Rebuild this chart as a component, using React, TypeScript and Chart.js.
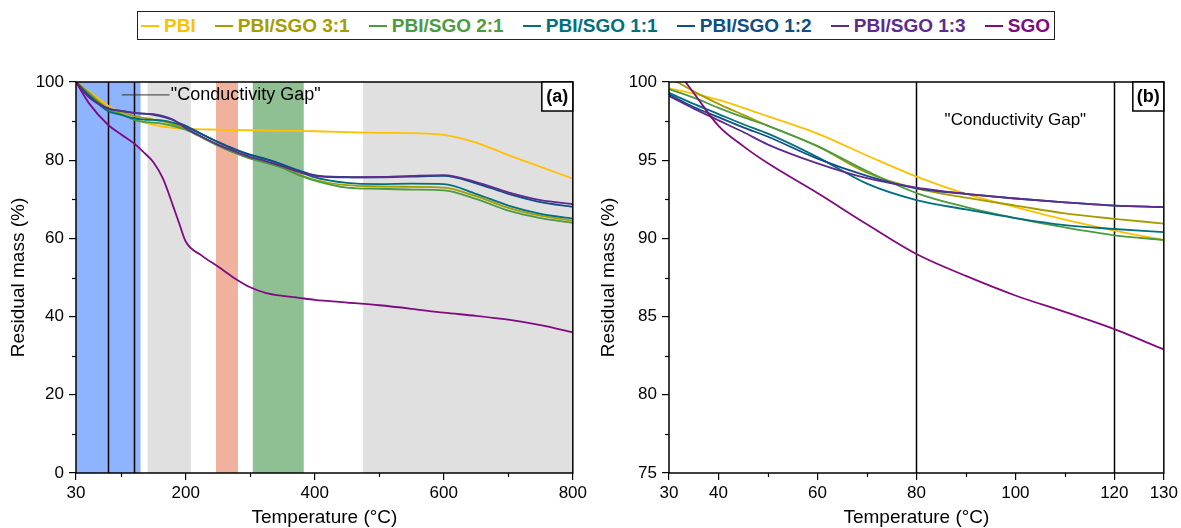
import React, { useEffect, useRef } from "react";
import { Chart, registerables } from "chart.js";
Chart.register(...registerables);

const FONT = "'Liberation Sans', Arial, sans-serif";

const SERIES_NAMES = ["PBI", "PBI/SGO 3:1", "PBI/SGO 2:1", "PBI/SGO 1:1", "PBI/SGO 1:2", "PBI/SGO 1:3", "SGO"];
const SERIES_COLORS = ["#FFC000", "#A59D00", "#4C9A41", "#00707F", "#104E85", "#5E2B8E", "#800A80"];

// Panel (a): full temperature range
const tempA = [30, 50, 80, 100, 120, 135, 150, 165, 180, 190, 200, 225, 250, 275, 300, 325, 350, 375, 400, 450, 500, 550, 600, 650, 700, 750, 800];
const pbiA = [100, 97.6, 93.9, 92.0, 90.5, 89.7, 89.1, 88.6, 88.3, 88.1, 88.0, 87.9, 87.8, 87.7, 87.7, 87.6, 87.5, 87.5, 87.4, 87.2, 87.0, 86.9, 86.5, 84.5, 81.3, 78.3, 75.3];
const r31A = [100, 97.3, 93.2, 92.4, 91.3, 90.8, 90.4, 89.9, 89.2, 88.6, 88.0, 85.9, 83.8, 82.0, 80.5, 79.4, 78.1, 76.4, 75.0, 73.6, 73.3, 73.2, 73.0, 70.8, 67.8, 65.8, 64.5];
const r21A = [100, 97.0, 92.9, 91.8, 90.3, 89.8, 89.6, 89.3, 88.8, 88.3, 87.8, 85.8, 83.7, 81.9, 80.4, 79.3, 78.0, 76.2, 74.8, 73.0, 72.7, 72.5, 72.3, 70.1, 67.1, 65.2, 64.0];
const r11A = [100, 96.6, 92.5, 91.6, 90.7, 90.4, 90.3, 90.1, 89.6, 89.1, 88.6, 86.6, 84.6, 82.8, 81.3, 80.2, 78.8, 77.2, 75.6, 74.2, 73.9, 74.0, 73.9, 71.4, 68.4, 66.3, 65.1];
const r12A = [100, 96.4, 93.2, 92.6, 92.1, 91.9, 91.6, 91.1, 90.3, 89.5, 88.8, 86.7, 84.7, 82.9, 81.4, 80.3, 78.9, 77.4, 76.2, 75.7, 75.6, 75.8, 76.0, 74.1, 71.4, 69.3, 68.1];
const r13A = [100, 96.1, 93.2, 92.6, 92.1, 91.9, 91.8, 91.3, 90.4, 89.3, 88.2, 86.0, 84.0, 82.3, 80.8, 79.7, 78.4, 77.0, 76.0, 75.6, 75.7, 76.0, 76.2, 74.4, 71.8, 69.8, 68.8];
const sgoA = [100, 94.6, 89.0, 86.6, 84.3, 82.0, 79.5, 75.2, 68.5, 63.8, 59.2, 55.6, 52.8, 49.9, 47.5, 46.0, 45.3, 44.8, 44.3, 43.6, 42.9, 42.0, 41.0, 40.2, 39.2, 37.8, 36.0];

// Panel (b): zoom 30-130 °C
const tempB = [30, 35, 40, 45, 50, 60, 70, 80, 90, 100, 110, 120, 130];
const pbiB = [99.6, 99.25, 98.85, 98.35, 97.8, 96.7, 95.3, 93.95, 92.85, 92.0, 91.2, 90.5, 89.9];
const r31B = [100.3, 99.4, 98.6, 97.9, 97.2, 95.9, 94.2, 93.2, 92.6, 92.1, 91.6, 91.25, 90.95];
const r21B = [99.55, 99.0, 98.35, 97.75, 97.2, 95.9, 94.3, 92.9, 92.0, 91.3, 90.7, 90.2, 89.9];
const r11B = [99.3, 98.6, 97.95, 97.3, 96.7, 95.2, 93.5, 92.45, 91.85, 91.3, 90.85, 90.6, 90.4];
const r12B = [99.2, 98.4, 97.75, 97.1, 96.5, 95.1, 94.0, 93.2, 92.85, 92.55, 92.3, 92.1, 92.0];
const r13B = [99.1, 98.3, 97.55, 96.8, 96.0, 94.8, 93.85, 93.25, 92.85, 92.55, 92.3, 92.1, 92.0];
const sgoB = [101.4, 99.3, 97.2, 95.9, 94.8, 92.9, 90.9, 89.0, 87.6, 86.35, 85.3, 84.2, 82.9];

// Axis ticks
const ticksAX = [30, 200, 400, 600, 800];
const minorAX = [100, 300, 500, 700];
const ticksAY = [0, 20, 40, 60, 80, 100];
const minorAY = [10, 30, 50, 70, 90];
const ticksBX = [30, 40, 60, 80, 100, 120, 130];
const minorBX = [50, 70, 90, 110];
const ticksBY = [75, 80, 85, 90, 95, 100];
const minorBY = [77.5, 82.5, 87.5, 92.5, 97.5];

// "Conductivity gap" boundaries and shaded temperature regions of panel (a)
const gapLines = [80, 120];
const bandStart = [30, 141, 247, 304, 475];
const bandEnd = [130, 208, 281, 383, 800];
const BAND_COLORS = ["#8EB4FF", "#E0E0E0", "#F0B29C", "#8FC093", "#E0E0E0"];

type PanelCfg = {
  temps: number[];
  series: number[][];
  xMin: number; xMax: number; xTicks: number[]; xMinor: number[];
  yMin: number; yMax: number; yTicks: number[]; yMinor: number[];
  yAxisWidth: number; padRight: number;
  bands: boolean;
  label: string;
  note: (chart: any) => void;
};

function makeConfig(p: PanelCfg): any {
  const datasets = p.series.map((vals, i) => ({
    label: SERIES_NAMES[i],
    data: p.temps.map((t, j) => ({ x: t, y: vals[j] })),
    borderColor: SERIES_COLORS[i],
    backgroundColor: SERIES_COLORS[i],
    borderWidth: 1.8,
    pointRadius: 0,
    cubicInterpolationMode: "monotone",
    fill: false,
    order: -i,
  }));

  const decor = {
    id: "decor",
    beforeDatasetsDraw(chart: any) {
      const { ctx, chartArea: ca, scales } = chart;
      const x = scales.x;
      ctx.save();
      if (p.bands) {
        bandStart.forEach((s, i) => {
          const x0 = x.getPixelForValue(s);
          const x1 = x.getPixelForValue(bandEnd[i]);
          ctx.fillStyle = BAND_COLORS[i];
          ctx.fillRect(x0, ca.top, x1 - x0, ca.bottom - ca.top);
        });
      }
      ctx.strokeStyle = "#000";
      ctx.lineWidth = 1.5;
      gapLines.forEach((v) => {
        const px = Math.round(x.getPixelForValue(v)) + 0.5;
        ctx.beginPath();
        ctx.moveTo(px, ca.top);
        ctx.lineTo(px, ca.bottom);
        ctx.stroke();
      });
      ctx.restore();
    },
    afterDatasetsDraw(chart: any) {
      const { ctx, chartArea: ca, scales } = chart;
      const x = scales.x, y = scales.y;
      ctx.save();
      // frame
      ctx.strokeStyle = "#000";
      ctx.lineWidth = 1.5;
      ctx.strokeRect(ca.left, ca.top, ca.right - ca.left, ca.bottom - ca.top);
      // minor ticks
      ctx.lineWidth = 1.2;
      p.xMinor.forEach((v) => {
        const px = Math.round(x.getPixelForValue(v)) + 0.5;
        ctx.beginPath();
        ctx.moveTo(px, ca.bottom);
        ctx.lineTo(px, ca.bottom + 4);
        ctx.stroke();
      });
      p.yMinor.forEach((v) => {
        const py = Math.round(y.getPixelForValue(v)) + 0.5;
        ctx.beginPath();
        ctx.moveTo(ca.left, py);
        ctx.lineTo(ca.left - 4, py);
        ctx.stroke();
      });
      // panel label box
      const bw = 31, bh = 29;
      ctx.fillStyle = "#fff";
      ctx.fillRect(ca.right - bw, ca.top, bw, bh);
      ctx.lineWidth = 1.5;
      ctx.strokeRect(ca.right - bw, ca.top, bw, bh);
      ctx.fillStyle = "#000";
      ctx.font = `bold 18px ${FONT}`;
      ctx.textAlign = "center";
      ctx.textBaseline = "middle";
      ctx.fillText(p.label, ca.right - bw / 2, ca.top + bh / 2 + 1);
      p.note(chart);
      ctx.restore();
    },
  };

  return {
    type: "line",
    data: { datasets },
    plugins: [decor],
    options: {
      responsive: false,
      animation: false,
      devicePixelRatio: 1,
      layout: { padding: { top: 82, right: p.padRight, left: 0, bottom: 0 }, autoPadding: false },
      plugins: { legend: { display: false }, tooltip: { enabled: false } },
      scales: {
        x: {
          type: "linear",
          min: p.xMin,
          max: p.xMax,
          afterBuildTicks: (s: any) => { s.ticks = p.xTicks.map((v) => ({ value: v })); },
          afterFit: (s: any) => { s.height = 55; },
          ticks: { color: "#000", font: { family: FONT, size: 17 }, padding: 3, maxRotation: 0, autoSkip: false },
          grid: { drawOnChartArea: false, drawTicks: true, tickLength: 7, tickColor: "#000", color: "#000", lineWidth: 1.2 },
          border: { display: false },
          title: { display: true, text: "Temperature (°C)", color: "#000", font: { family: FONT, size: 19 }, padding: { top: 0, bottom: -1 } },
        },
        y: {
          type: "linear",
          min: p.yMin,
          max: p.yMax,
          afterBuildTicks: (s: any) => { s.ticks = p.yTicks.map((v) => ({ value: v })); },
          afterFit: (s: any) => { s.width = p.yAxisWidth; },
          ticks: { color: "#000", font: { family: FONT, size: 17 }, padding: 5, autoSkip: false },
          grid: { drawOnChartArea: false, drawTicks: true, tickLength: 7, tickColor: "#000", color: "#000", lineWidth: 1.2 },
          border: { display: false },
          title: { display: true, text: "Residual mass (%)", color: "#000", font: { family: FONT, size: 19 }, padding: { top: 7, bottom: 0 } },
        },
      },
    },
  };
}

const noteA = (chart: any) => {
  const { ctx, scales } = chart;
  const x = scales.x, y = scales.y;
  const py = y.getPixelForValue(96.7);
  ctx.strokeStyle = "#333";
  ctx.lineWidth = 1;
  ctx.beginPath();
  ctx.moveTo(x.getPixelForValue(101), py);
  ctx.lineTo(x.getPixelForValue(175), py);
  ctx.stroke();
  ctx.fillStyle = "#000";
  ctx.font = `18px ${FONT}`;
  ctx.textAlign = "left";
  ctx.textBaseline = "middle";
  ctx.fillText('"Conductivity Gap"', x.getPixelForValue(177), py);
};

const noteB = (chart: any) => {
  const { ctx, scales } = chart;
  const x = scales.x, y = scales.y;
  ctx.fillStyle = "#000";
  ctx.font = `17px ${FONT}`;
  ctx.textAlign = "center";
  ctx.textBaseline = "middle";
  ctx.fillText('"Conductivity Gap"', x.getPixelForValue(100), y.getPixelForValue(97.55));
};

function Panel({ left, width, cfg }: { left: number; width: number; cfg: PanelCfg }) {
  const ref = useRef<HTMLCanvasElement>(null);
  useEffect(() => {
    const chart = new Chart(ref.current as HTMLCanvasElement, makeConfig(cfg));
    return () => chart.destroy();
  }, []);
  return (
    <canvas
      ref={ref}
      width={width}
      height={528}
      style={{ position: "absolute", left, top: 0, width, height: 528 }}
    />
  );
}

function Legend() {
  return (
    <div
      style={{
        position: "absolute",
        left: 137,
        top: 11,
        width: 918,
        height: 29,
        boxSizing: "border-box",
        border: "1.5px solid #222",
        display: "flex",
        alignItems: "center",
        justifyContent: "space-between",
        padding: "0 4px 0 3px",
        fontFamily: FONT,
        fontWeight: "bold",
        fontSize: 19,
        background: "#fff",
        zIndex: 2,
      }}
    >
      {SERIES_NAMES.map((n, i) => (
        <div key={n} style={{ display: "flex", alignItems: "center", color: SERIES_COLORS[i], whiteSpace: "nowrap" }}>
          <span style={{ display: "inline-block", width: 18, height: 2, background: SERIES_COLORS[i], marginRight: 5 }} />
          <span>{n}</span>
        </div>
      ))}
    </div>
  );
}

export default function App() {
  const cfgA: PanelCfg = {
    temps: tempA,
    series: [pbiA, r31A, r21A, r11A, r12A, r13A, sgoA],
    xMin: 30, xMax: 800, xTicks: ticksAX, xMinor: minorAX,
    yMin: 0, yMax: 100, yTicks: ticksAY, yMinor: minorAY,
    yAxisWidth: 76, padRight: 16,
    bands: true,
    label: "(a)",
    note: noteA,
  };
  const cfgB: PanelCfg = {
    temps: tempB,
    series: [pbiB, r31B, r21B, r11B, r12B, r13B, sgoB],
    xMin: 30, xMax: 130, xTicks: ticksBX, xMinor: minorBX,
    yMin: 75, yMax: 100, yTicks: ticksBY, yMinor: minorBY,
    yAxisWidth: 79, padRight: 15,
    bands: false,
    label: "(b)",
    note: noteB,
  };
  return (
    <div style={{ position: "fixed", left: 0, top: 0, width: 1181, height: 528, background: "#fff", overflow: "hidden" }}>
      <Legend />
      <Panel left={0} width={590} cfg={cfgA} />
      <Panel left={590} width={591} cfg={cfgB} />
    </div>
  );
}
